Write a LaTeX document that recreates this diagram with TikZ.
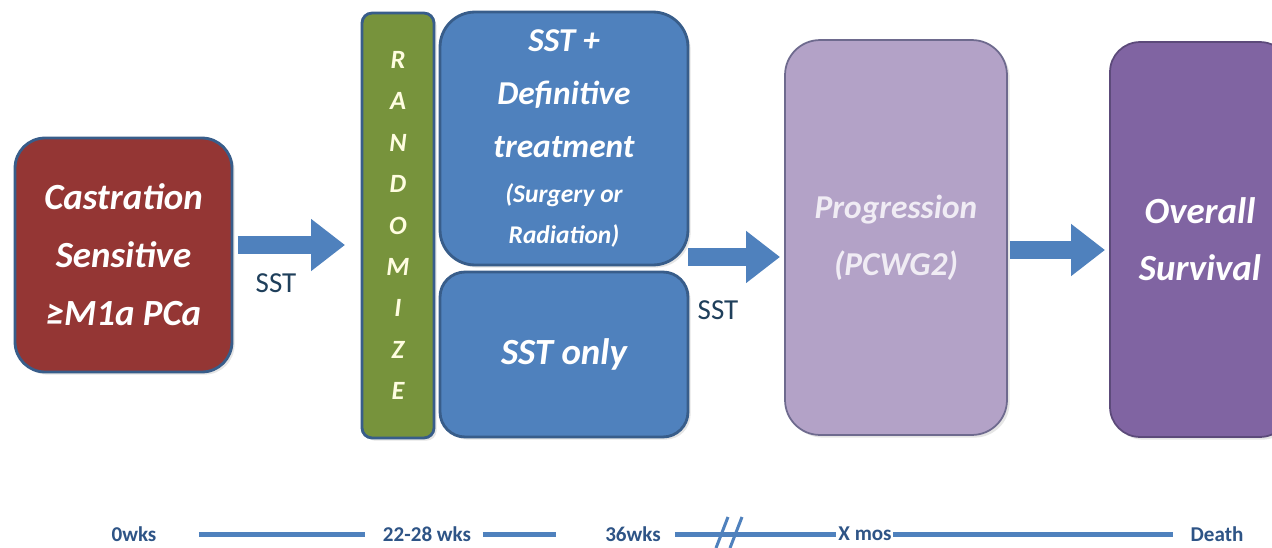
\documentclass[tikz,border=0pt]{standalone}
\usepackage{fontspec}
\setmainfont{Carlito}
\usepackage{tikz}
\usetikzlibrary{arrows.meta, positioning, calc, shadows}
\definecolor{castred}{HTML}{943634}
\definecolor{randgreen}{HTML}{77933C}
\definecolor{armblue}{HTML}{4F81BD}
\definecolor{edgeblue}{HTML}{385D8A}
\definecolor{proglilac}{HTML}{B3A2C7}
\definecolor{progedge}{HTML}{6E6A8E}
\definecolor{survpurple}{HTML}{8064A2}
\definecolor{survedge}{HTML}{5C4A7A}
\definecolor{labelnavy}{HTML}{1F3F5B}
\definecolor{timenavy}{HTML}{2E5486}

\newcommand{\bigtxt}{\fontsize{19}{30}\selectfont}

\begin{document}
\begin{tikzpicture}[
    x=0.02cm, y=-0.02cm,
    box/.style={draw=edgeblue, line width=1.6pt, fill=#1, inner sep=0pt, outer sep=0pt, align=center, text=white, drop shadow={opacity=0.2, shadow xshift=1.5pt, shadow yshift=-1.5pt}},
    fatarrow/.style={armblue, line width=0.36cm, -{Triangle[length=0.68cm, width=1cm]}},
    sstlabel/.style={font=\fontsize{16.5}{18}\selectfont, text=labelnavy},
    tnode/.style={font=\fontsize{12}{14}\selectfont\bfseries, text=timenavy},
    tline/.style={draw=armblue, line width=0.1cm},
]
    \fill[white] (0,0) rectangle (1272,548);
    \useasboundingbox (0,0) rectangle (1272,548);

    \node[box=castred, rounded corners=0.6cm, minimum width=4.34cm, minimum height=4.68cm, font=\fontsize{21}{33}\selectfont\bfseries\itshape] (castr) at (123.5,255) {Castration\\Sensitive\\≥M1a PCa};
    \node[box=randgreen, rounded corners=0.2cm, minimum width=1.44cm, minimum height=8.5cm, text=white!88!yellow, font=\fontsize{15}{23.6}\selectfont\bfseries\itshape] (rand) at (398,225.5) {R\\A\\N\\D\\O\\M\\I\\Z\\E};
    \node[box=armblue, rounded corners=0.7cm, minimum width=4.96cm, minimum height=5.06cm, font=\fontsize{14.5}{23}\selectfont\bfseries\itshape] (treat) at (564,138.5) {{\bigtxt SST +}\\[7pt]{\bigtxt Definitive}\\[7pt]{\bigtxt treatment}\\[3pt](Surgery or\\Radiation)};
    \node[box=armblue, rounded corners=0.5cm, minimum width=4.96cm, minimum height=3.3cm, font=\fontsize{21}{25}\selectfont\bfseries\itshape] (only) at (564,354.5) {SST only};
    \node[box=proglilac, draw=progedge, line width=1pt, rounded corners=0.7cm, minimum width=4.44cm, minimum height=7.9cm, text=white!80!proglilac, font=\fontsize{19}{32.5}\selectfont\bfseries\itshape] (prog) at (896,237.5) {Progression\\(PCWG2)};
    \node[box=survpurple, draw=survedge, line width=1pt, rounded corners=0.6cm, minimum width=3.6cm, minimum height=7.9cm, font=\fontsize{21}{32.5}\selectfont\bfseries\itshape] (surv) at (1200,239.5) {Overall\\Survival};

    % Arrows
    \coordinate (a1) at ([yshift=0.2cm]castr.east);
    \coordinate (a2) at ([yshift=0.16cm]treat.south east);
    \coordinate (a3) at ([yshift=-0.25cm]prog.east);
    \draw[fatarrow, shorten <=0.12cm, shorten >=0.34cm] (a1) -- (a1 -| rand.west);
    \draw[fatarrow, shorten >=0.1cm] (a2) -- (a2 -| prog.west);
    \draw[fatarrow, shorten <=0.06cm, shorten >=0.1cm] (a3) -- (a3 -| surv.west);
    \node[sstlabel] (sst1) at (276,283) {SST};
    \node[sstlabel] (sst2) at (718,310) {SST};

    % Timeline
    \node[tnode] (t0) at (134,534) {0wks};
    \node[tnode] (t1) at (427,534) {22-28 wks};
    \node[tnode] (t2) at (633,534) {36wks};
    \node[tnode] (t3) at (865,534) {X mos};
    \node[tnode] (t4) at (1217,534) {Death};
    \draw[tline] ([xshift=1.3cm]t0.center) -- ([xshift=-1.24cm]t1.center);
    \draw[tline] ([xshift=1.12cm]t1.center) -- ([xshift=-1.54cm]t2.center);
    \draw[tline] ([xshift=0.84cm]t2.center) -- ([xshift=-0.58cm]t3.center);
    \draw[tline] ([xshift=0.56cm]t3.center) -- ([xshift=-0.88cm]t4.center);
    \draw[tline, line width=0.06cm] (716,548) -- (728,517) (730,548) -- (742,517);
\end{tikzpicture}
\end{document}
